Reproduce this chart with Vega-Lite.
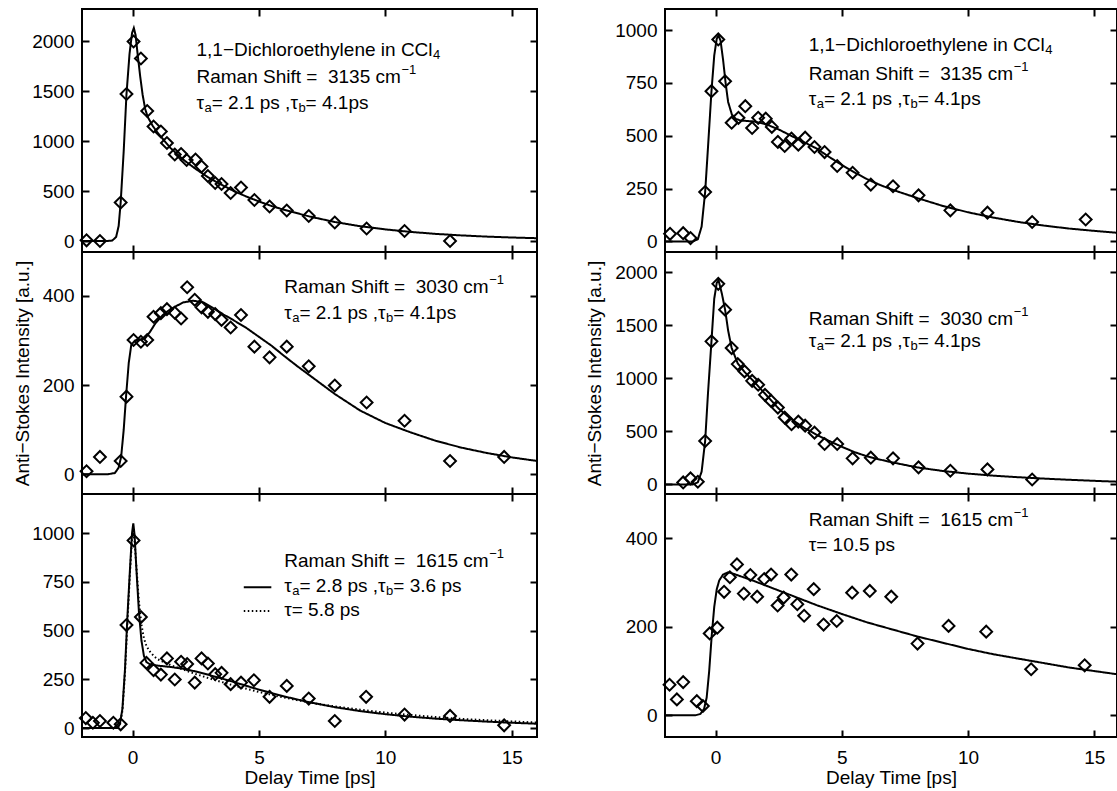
{
"$schema": "https://vega.github.io/schema/vega-lite/v6.json",
"background": "white",
"padding": {"left": 12, "top": 7, "right": 0, "bottom": 4},
"datasets": {
"points": [
{"panel":"L1","t":-1.82,"v":7},{"panel":"L1","t":-1.29,"v":0},{"panel":"L1","t":-0.47,"v":385},{"panel":"L1","t":-0.24,"v":1470},{"panel":"L1","t":0.04,"v":1995},{"panel":"L1","t":0.33,"v":1825},{"panel":"L1","t":0.58,"v":1300},{"panel":"L1","t":0.83,"v":1145},{"panel":"L1","t":1.12,"v":1095},{"panel":"L1","t":1.36,"v":980},{"panel":"L1","t":1.67,"v":865},{"panel":"L1","t":1.92,"v":870},{"panel":"L1","t":2.14,"v":810},{"panel":"L1","t":2.49,"v":815},{"panel":"L1","t":2.73,"v":745},{"panel":"L1","t":2.98,"v":650},{"panel":"L1","t":3.27,"v":580},{"panel":"L1","t":3.52,"v":570},{"panel":"L1","t":3.88,"v":480},{"panel":"L1","t":4.29,"v":535},{"panel":"L1","t":4.82,"v":410},{"panel":"L1","t":5.42,"v":345},{"panel":"L1","t":6.1,"v":305},{"panel":"L1","t":6.97,"v":250},{"panel":"L1","t":8.0,"v":185},{"panel":"L1","t":9.26,"v":125},{"panel":"L1","t":10.76,"v":100},{"panel":"L1","t":12.56,"v":0},
{"panel":"L2","t":-1.82,"v":7},{"panel":"L2","t":-1.29,"v":39},{"panel":"L2","t":-0.47,"v":30},{"panel":"L2","t":-0.24,"v":174},{"panel":"L2","t":0.04,"v":301},{"panel":"L2","t":0.33,"v":297},{"panel":"L2","t":0.58,"v":301},{"panel":"L2","t":0.83,"v":353},{"panel":"L2","t":1.12,"v":361},{"panel":"L2","t":1.36,"v":370},{"panel":"L2","t":1.67,"v":362},{"panel":"L2","t":1.92,"v":349},{"panel":"L2","t":2.16,"v":419},{"panel":"L2","t":2.46,"v":391},{"panel":"L2","t":2.73,"v":374},{"panel":"L2","t":2.98,"v":364},{"panel":"L2","t":3.27,"v":359},{"panel":"L2","t":3.52,"v":346},{"panel":"L2","t":3.88,"v":329},{"panel":"L2","t":4.29,"v":357},{"panel":"L2","t":4.82,"v":286},{"panel":"L2","t":5.42,"v":262},{"panel":"L2","t":6.1,"v":286},{"panel":"L2","t":6.97,"v":242},{"panel":"L2","t":8.0,"v":199},{"panel":"L2","t":9.26,"v":161},{"panel":"L2","t":10.76,"v":120},{"panel":"L2","t":12.56,"v":30},{"panel":"L2","t":14.7,"v":39},
{"panel":"L3","t":-1.85,"v":51},{"panel":"L3","t":-1.57,"v":27},{"panel":"L3","t":-1.29,"v":36},{"panel":"L3","t":-0.76,"v":27},{"panel":"L3","t":-0.47,"v":19},{"panel":"L3","t":-0.24,"v":528},{"panel":"L3","t":0.04,"v":962},{"panel":"L3","t":0.33,"v":569},{"panel":"L3","t":0.55,"v":334},{"panel":"L3","t":0.83,"v":297},{"panel":"L3","t":1.12,"v":274},{"panel":"L3","t":1.36,"v":357},{"panel":"L3","t":1.67,"v":249},{"panel":"L3","t":1.92,"v":340},{"panel":"L3","t":2.16,"v":328},{"panel":"L3","t":2.46,"v":233},{"panel":"L3","t":2.73,"v":357},{"panel":"L3","t":2.98,"v":331},{"panel":"L3","t":3.27,"v":276},{"panel":"L3","t":3.52,"v":283},{"panel":"L3","t":3.88,"v":225},{"panel":"L3","t":4.29,"v":233},{"panel":"L3","t":4.8,"v":245},{"panel":"L3","t":5.42,"v":160},{"panel":"L3","t":6.1,"v":216},{"panel":"L3","t":6.97,"v":151},{"panel":"L3","t":8.0,"v":36},{"panel":"L3","t":9.24,"v":160},{"panel":"L3","t":10.76,"v":69},{"panel":"L3","t":12.56,"v":62},{"panel":"L3","t":14.7,"v":14},
{"panel":"R1","t":-1.8,"v":36},{"panel":"R1","t":-1.28,"v":39},{"panel":"R1","t":-0.99,"v":16},{"panel":"R1","t":-0.41,"v":234},{"panel":"R1","t":-0.16,"v":711},{"panel":"R1","t":0.11,"v":956},{"panel":"R1","t":0.38,"v":758},{"panel":"R1","t":0.64,"v":562},{"panel":"R1","t":0.91,"v":585},{"panel":"R1","t":1.18,"v":640},{"panel":"R1","t":1.45,"v":537},{"panel":"R1","t":1.69,"v":585},{"panel":"R1","t":1.99,"v":581},{"panel":"R1","t":2.23,"v":542},{"panel":"R1","t":2.47,"v":471},{"panel":"R1","t":2.74,"v":452},{"panel":"R1","t":3.01,"v":487},{"panel":"R1","t":3.28,"v":458},{"panel":"R1","t":3.55,"v":491},{"panel":"R1","t":3.92,"v":447},{"panel":"R1","t":4.32,"v":423},{"panel":"R1","t":4.82,"v":357},{"panel":"R1","t":5.43,"v":325},{"panel":"R1","t":6.15,"v":269},{"panel":"R1","t":7.03,"v":261},{"panel":"R1","t":8.04,"v":218},{"panel":"R1","t":9.3,"v":147},{"panel":"R1","t":10.77,"v":136},{"panel":"R1","t":12.54,"v":92},{"panel":"R1","t":14.66,"v":104},
{"panel":"R2","t":-1.28,"v":19},{"panel":"R2","t":-0.99,"v":57},{"panel":"R2","t":-0.7,"v":25},{"panel":"R2","t":-0.41,"v":409},{"panel":"R2","t":-0.16,"v":1348},{"panel":"R2","t":0.11,"v":1890},{"panel":"R2","t":0.38,"v":1647},{"panel":"R2","t":0.64,"v":1285},{"panel":"R2","t":0.88,"v":1134},{"panel":"R2","t":1.15,"v":1065},{"panel":"R2","t":1.45,"v":976},{"panel":"R2","t":1.69,"v":939},{"panel":"R2","t":1.96,"v":844},{"panel":"R2","t":2.2,"v":787},{"panel":"R2","t":2.47,"v":724},{"panel":"R2","t":2.74,"v":630},{"panel":"R2","t":3.01,"v":567},{"panel":"R2","t":3.28,"v":592},{"panel":"R2","t":3.55,"v":554},{"panel":"R2","t":3.92,"v":488},{"panel":"R2","t":4.32,"v":381},{"panel":"R2","t":4.82,"v":381},{"panel":"R2","t":5.43,"v":246},{"panel":"R2","t":6.15,"v":252},{"panel":"R2","t":7.03,"v":246},{"panel":"R2","t":8.04,"v":161},{"panel":"R2","t":9.3,"v":129},{"panel":"R2","t":10.77,"v":142},{"panel":"R2","t":12.54,"v":47},
{"panel":"R3","t":-1.82,"v":69},{"panel":"R3","t":-1.53,"v":36},{"panel":"R3","t":-1.28,"v":75},{"panel":"R3","t":-0.74,"v":32},{"panel":"R3","t":-0.5,"v":21},{"panel":"R3","t":-0.23,"v":185},{"panel":"R3","t":0.07,"v":198},{"panel":"R3","t":0.34,"v":279},{"panel":"R3","t":0.57,"v":312},{"panel":"R3","t":0.85,"v":341},{"panel":"R3","t":1.12,"v":275},{"panel":"R3","t":1.38,"v":317},{"panel":"R3","t":1.65,"v":268},{"panel":"R3","t":1.93,"v":308},{"panel":"R3","t":2.2,"v":318},{"panel":"R3","t":2.46,"v":248},{"panel":"R3","t":2.7,"v":266},{"panel":"R3","t":3.0,"v":318},{"panel":"R3","t":3.24,"v":251},{"panel":"R3","t":3.51,"v":225},{"panel":"R3","t":3.89,"v":285},{"panel":"R3","t":4.28,"v":205},{"panel":"R3","t":4.8,"v":213},{"panel":"R3","t":5.41,"v":277},{"panel":"R3","t":6.11,"v":281},{"panel":"R3","t":6.96,"v":268},{"panel":"R3","t":8.0,"v":162},{"panel":"R3","t":9.23,"v":202},{"panel":"R3","t":10.72,"v":189},{"panel":"R3","t":12.5,"v":104},{"panel":"R3","t":14.62,"v":113}
],
"fits": [
{"panel":"L1","fit":"solid","t":-2,"v":0},{"panel":"L1","fit":"solid","t":-1,"v":0},{"panel":"L1","fit":"solid","t":-0.8,"v":5},{"panel":"L1","fit":"solid","t":-0.65,"v":40},{"panel":"L1","fit":"solid","t":-0.55,"v":150},{"panel":"L1","fit":"solid","t":-0.47,"v":385},{"panel":"L1","fit":"solid","t":-0.35,"v":900},{"panel":"L1","fit":"solid","t":-0.24,"v":1470},{"panel":"L1","fit":"solid","t":-0.12,"v":1870},{"panel":"L1","fit":"solid","t":-0.02,"v":2080},{"panel":"L1","fit":"solid","t":0.05,"v":2130},{"panel":"L1","fit":"solid","t":0.12,"v":2060},{"panel":"L1","fit":"solid","t":0.2,"v":1870},{"panel":"L1","fit":"solid","t":0.3,"v":1650},{"panel":"L1","fit":"solid","t":0.4,"v":1460},{"panel":"L1","fit":"solid","t":0.5,"v":1320},{"panel":"L1","fit":"solid","t":0.6,"v":1240},{"panel":"L1","fit":"solid","t":0.8,"v":1150},{"panel":"L1","fit":"solid","t":1.0,"v":1080},{"panel":"L1","fit":"solid","t":1.5,"v":930},{"panel":"L1","fit":"solid","t":2.0,"v":815},{"panel":"L1","fit":"solid","t":2.5,"v":720},{"panel":"L1","fit":"solid","t":3.0,"v":635},{"panel":"L1","fit":"solid","t":3.5,"v":565},{"panel":"L1","fit":"solid","t":4.0,"v":500},{"panel":"L1","fit":"solid","t":4.5,"v":445},{"panel":"L1","fit":"solid","t":5.0,"v":395},{"panel":"L1","fit":"solid","t":5.5,"v":350},{"panel":"L1","fit":"solid","t":6.0,"v":312},{"panel":"L1","fit":"solid","t":7.0,"v":245},{"panel":"L1","fit":"solid","t":8.0,"v":190},{"panel":"L1","fit":"solid","t":9.0,"v":148},{"panel":"L1","fit":"solid","t":10.0,"v":116},{"panel":"L1","fit":"solid","t":11.0,"v":91},{"panel":"L1","fit":"solid","t":12.0,"v":71},{"panel":"L1","fit":"solid","t":13.0,"v":56},{"panel":"L1","fit":"solid","t":14.0,"v":44},{"panel":"L1","fit":"solid","t":15.0,"v":35},{"panel":"L1","fit":"solid","t":16.0,"v":28},
{"panel":"L2","fit":"solid","t":-2,"v":0},{"panel":"L2","fit":"solid","t":-1,"v":0},{"panel":"L2","fit":"solid","t":-0.7,"v":3},{"panel":"L2","fit":"solid","t":-0.55,"v":15},{"panel":"L2","fit":"solid","t":-0.45,"v":40},{"panel":"L2","fit":"solid","t":-0.35,"v":100},{"panel":"L2","fit":"solid","t":-0.25,"v":180},{"panel":"L2","fit":"solid","t":-0.15,"v":250},{"panel":"L2","fit":"solid","t":-0.05,"v":290},{"panel":"L2","fit":"solid","t":0.1,"v":300},{"panel":"L2","fit":"solid","t":0.3,"v":302},{"panel":"L2","fit":"solid","t":0.5,"v":305},{"panel":"L2","fit":"solid","t":0.7,"v":320},{"panel":"L2","fit":"solid","t":0.9,"v":338},{"panel":"L2","fit":"solid","t":1.2,"v":357},{"panel":"L2","fit":"solid","t":1.5,"v":370},{"panel":"L2","fit":"solid","t":2.0,"v":385},{"panel":"L2","fit":"solid","t":2.4,"v":389},{"panel":"L2","fit":"solid","t":2.8,"v":385},{"panel":"L2","fit":"solid","t":3.2,"v":372},{"panel":"L2","fit":"solid","t":3.6,"v":358},{"panel":"L2","fit":"solid","t":4.0,"v":345},{"panel":"L2","fit":"solid","t":4.5,"v":328},{"panel":"L2","fit":"solid","t":5.0,"v":308},{"panel":"L2","fit":"solid","t":5.5,"v":288},{"panel":"L2","fit":"solid","t":6.0,"v":265},{"panel":"L2","fit":"solid","t":6.5,"v":243},{"panel":"L2","fit":"solid","t":7.0,"v":222},{"panel":"L2","fit":"solid","t":8.0,"v":180},{"panel":"L2","fit":"solid","t":9.0,"v":143},{"panel":"L2","fit":"solid","t":10.0,"v":115},{"panel":"L2","fit":"solid","t":11.0,"v":94},{"panel":"L2","fit":"solid","t":12.0,"v":75},{"panel":"L2","fit":"solid","t":13.0,"v":60},{"panel":"L2","fit":"solid","t":14.0,"v":48},{"panel":"L2","fit":"solid","t":15.0,"v":38},{"panel":"L2","fit":"solid","t":16.0,"v":30},
{"panel":"L3","fit":"solid","t":-2,"v":0},{"panel":"L3","fit":"solid","t":-0.6,"v":0},{"panel":"L3","fit":"solid","t":-0.5,"v":20},{"panel":"L3","fit":"solid","t":-0.4,"v":100},{"panel":"L3","fit":"solid","t":-0.3,"v":300},{"panel":"L3","fit":"solid","t":-0.2,"v":580},{"panel":"L3","fit":"solid","t":-0.1,"v":820},{"panel":"L3","fit":"solid","t":-0.02,"v":1000},{"panel":"L3","fit":"solid","t":0.03,"v":1050},{"panel":"L3","fit":"solid","t":0.08,"v":990},{"panel":"L3","fit":"solid","t":0.15,"v":820},{"panel":"L3","fit":"solid","t":0.25,"v":600},{"panel":"L3","fit":"solid","t":0.35,"v":450},{"panel":"L3","fit":"solid","t":0.45,"v":370},{"panel":"L3","fit":"solid","t":0.55,"v":338},{"panel":"L3","fit":"solid","t":0.7,"v":326},{"panel":"L3","fit":"solid","t":1.0,"v":320},{"panel":"L3","fit":"solid","t":1.5,"v":313},{"panel":"L3","fit":"solid","t":2.0,"v":304},{"panel":"L3","fit":"solid","t":2.5,"v":290},{"panel":"L3","fit":"solid","t":3.0,"v":273},{"panel":"L3","fit":"solid","t":3.5,"v":255},{"panel":"L3","fit":"solid","t":4.0,"v":236},{"panel":"L3","fit":"solid","t":5.0,"v":197},{"panel":"L3","fit":"solid","t":6.0,"v":162},{"panel":"L3","fit":"solid","t":7.0,"v":132},{"panel":"L3","fit":"solid","t":8.0,"v":107},{"panel":"L3","fit":"solid","t":9.0,"v":87},{"panel":"L3","fit":"solid","t":10.0,"v":71},{"panel":"L3","fit":"solid","t":11.0,"v":58},{"panel":"L3","fit":"solid","t":12.0,"v":48},{"panel":"L3","fit":"solid","t":13.0,"v":40},{"panel":"L3","fit":"solid","t":14.0,"v":33},{"panel":"L3","fit":"solid","t":15.0,"v":27},{"panel":"L3","fit":"solid","t":16.0,"v":22},
{"panel":"L3","fit":"dotted","t":-2,"v":0},{"panel":"L3","fit":"dotted","t":-0.6,"v":0},{"panel":"L3","fit":"dotted","t":-0.5,"v":15},{"panel":"L3","fit":"dotted","t":-0.4,"v":90},{"panel":"L3","fit":"dotted","t":-0.3,"v":280},{"panel":"L3","fit":"dotted","t":-0.2,"v":550},{"panel":"L3","fit":"dotted","t":-0.1,"v":800},{"panel":"L3","fit":"dotted","t":-0.02,"v":975},{"panel":"L3","fit":"dotted","t":0.03,"v":1000},{"panel":"L3","fit":"dotted","t":0.08,"v":960},{"panel":"L3","fit":"dotted","t":0.15,"v":830},{"panel":"L3","fit":"dotted","t":0.25,"v":650},{"panel":"L3","fit":"dotted","t":0.35,"v":530},{"panel":"L3","fit":"dotted","t":0.45,"v":460},{"panel":"L3","fit":"dotted","t":0.55,"v":420},{"panel":"L3","fit":"dotted","t":0.7,"v":390},{"panel":"L3","fit":"dotted","t":0.85,"v":368},{"panel":"L3","fit":"dotted","t":1.0,"v":352},{"panel":"L3","fit":"dotted","t":1.5,"v":323},{"panel":"L3","fit":"dotted","t":2.0,"v":300},{"panel":"L3","fit":"dotted","t":2.5,"v":277},{"panel":"L3","fit":"dotted","t":3.0,"v":256},{"panel":"L3","fit":"dotted","t":4.0,"v":218},{"panel":"L3","fit":"dotted","t":5.0,"v":185},{"panel":"L3","fit":"dotted","t":6.0,"v":156},{"panel":"L3","fit":"dotted","t":7.0,"v":131},{"panel":"L3","fit":"dotted","t":8.0,"v":111},{"panel":"L3","fit":"dotted","t":9.0,"v":94},{"panel":"L3","fit":"dotted","t":10.0,"v":79},{"panel":"L3","fit":"dotted","t":11.0,"v":67},{"panel":"L3","fit":"dotted","t":12.0,"v":56},{"panel":"L3","fit":"dotted","t":13.0,"v":47},{"panel":"L3","fit":"dotted","t":14.0,"v":40},{"panel":"L3","fit":"dotted","t":15.0,"v":34},{"panel":"L3","fit":"dotted","t":16.0,"v":28},
{"panel":"R1","fit":"solid","t":-2,"v":0},{"panel":"R1","fit":"solid","t":-0.9,"v":0},{"panel":"R1","fit":"solid","t":-0.7,"v":10},{"panel":"R1","fit":"solid","t":-0.55,"v":70},{"panel":"R1","fit":"solid","t":-0.41,"v":234},{"panel":"R1","fit":"solid","t":-0.3,"v":440},{"panel":"R1","fit":"solid","t":-0.16,"v":711},{"panel":"R1","fit":"solid","t":-0.05,"v":880},{"panel":"R1","fit":"solid","t":0.05,"v":960},{"panel":"R1","fit":"solid","t":0.12,"v":975},{"panel":"R1","fit":"solid","t":0.2,"v":950},{"panel":"R1","fit":"solid","t":0.3,"v":860},{"panel":"R1","fit":"solid","t":0.4,"v":750},{"panel":"R1","fit":"solid","t":0.5,"v":660},{"panel":"R1","fit":"solid","t":0.65,"v":600},{"panel":"R1","fit":"solid","t":0.8,"v":580},{"panel":"R1","fit":"solid","t":1.0,"v":572},{"panel":"R1","fit":"solid","t":1.5,"v":568},{"panel":"R1","fit":"solid","t":2.0,"v":555},{"panel":"R1","fit":"solid","t":2.5,"v":530},{"panel":"R1","fit":"solid","t":3.0,"v":500},{"panel":"R1","fit":"solid","t":3.5,"v":470},{"panel":"R1","fit":"solid","t":4.0,"v":440},{"panel":"R1","fit":"solid","t":4.5,"v":400},{"panel":"R1","fit":"solid","t":5.0,"v":362},{"panel":"R1","fit":"solid","t":5.5,"v":327},{"panel":"R1","fit":"solid","t":6.0,"v":295},{"panel":"R1","fit":"solid","t":6.5,"v":268},{"panel":"R1","fit":"solid","t":7.0,"v":245},{"panel":"R1","fit":"solid","t":8.0,"v":205},{"panel":"R1","fit":"solid","t":9.0,"v":168},{"panel":"R1","fit":"solid","t":10.0,"v":138},{"panel":"R1","fit":"solid","t":11.0,"v":113},{"panel":"R1","fit":"solid","t":12.0,"v":92},{"panel":"R1","fit":"solid","t":13.0,"v":75},{"panel":"R1","fit":"solid","t":14.0,"v":61},{"panel":"R1","fit":"solid","t":15.0,"v":50},{"panel":"R1","fit":"solid","t":16.0,"v":40},
{"panel":"R2","fit":"solid","t":-2,"v":0},{"panel":"R2","fit":"solid","t":-0.9,"v":0},{"panel":"R2","fit":"solid","t":-0.7,"v":20},{"panel":"R2","fit":"solid","t":-0.55,"v":120},{"panel":"R2","fit":"solid","t":-0.41,"v":409},{"panel":"R2","fit":"solid","t":-0.3,"v":850},{"panel":"R2","fit":"solid","t":-0.16,"v":1348},{"panel":"R2","fit":"solid","t":-0.05,"v":1750},{"panel":"R2","fit":"solid","t":0.05,"v":1900},{"panel":"R2","fit":"solid","t":0.12,"v":1925},{"panel":"R2","fit":"solid","t":0.25,"v":1800},{"panel":"R2","fit":"solid","t":0.38,"v":1647},{"panel":"R2","fit":"solid","t":0.5,"v":1450},{"panel":"R2","fit":"solid","t":0.64,"v":1285},{"panel":"R2","fit":"solid","t":0.88,"v":1140},{"panel":"R2","fit":"solid","t":1.15,"v":1060},{"panel":"R2","fit":"solid","t":1.5,"v":975},{"panel":"R2","fit":"solid","t":2.0,"v":845},{"panel":"R2","fit":"solid","t":2.5,"v":715},{"panel":"R2","fit":"solid","t":3.0,"v":615},{"panel":"R2","fit":"solid","t":3.5,"v":535},{"panel":"R2","fit":"solid","t":4.0,"v":468},{"panel":"R2","fit":"solid","t":4.5,"v":410},{"panel":"R2","fit":"solid","t":5.0,"v":355},{"panel":"R2","fit":"solid","t":5.5,"v":305},{"panel":"R2","fit":"solid","t":6.0,"v":265},{"panel":"R2","fit":"solid","t":6.5,"v":235},{"panel":"R2","fit":"solid","t":7.0,"v":208},{"panel":"R2","fit":"solid","t":8.0,"v":160},{"panel":"R2","fit":"solid","t":9.0,"v":127},{"panel":"R2","fit":"solid","t":10.0,"v":102},{"panel":"R2","fit":"solid","t":11.0,"v":83},{"panel":"R2","fit":"solid","t":12.0,"v":68},{"panel":"R2","fit":"solid","t":13.0,"v":55},{"panel":"R2","fit":"solid","t":14.0,"v":44},{"panel":"R2","fit":"solid","t":15.0,"v":34},{"panel":"R2","fit":"solid","t":16.0,"v":25},
{"panel":"R3","fit":"solid","t":-2,"v":0},{"panel":"R3","fit":"solid","t":-0.8,"v":0},{"panel":"R3","fit":"solid","t":-0.6,"v":3},{"panel":"R3","fit":"solid","t":-0.45,"v":15},{"panel":"R3","fit":"solid","t":-0.35,"v":40},{"panel":"R3","fit":"solid","t":-0.25,"v":100},{"panel":"R3","fit":"solid","t":-0.15,"v":180},{"panel":"R3","fit":"solid","t":-0.05,"v":245},{"panel":"R3","fit":"solid","t":0.05,"v":285},{"panel":"R3","fit":"solid","t":0.15,"v":305},{"panel":"R3","fit":"solid","t":0.3,"v":318},{"panel":"R3","fit":"solid","t":0.5,"v":323},{"panel":"R3","fit":"solid","t":0.7,"v":320},{"panel":"R3","fit":"solid","t":1.0,"v":314},{"panel":"R3","fit":"solid","t":1.5,"v":304},{"panel":"R3","fit":"solid","t":2.0,"v":293},{"panel":"R3","fit":"solid","t":3.0,"v":271},{"panel":"R3","fit":"solid","t":4.0,"v":249},{"panel":"R3","fit":"solid","t":5.0,"v":229},{"panel":"R3","fit":"solid","t":6.0,"v":210},{"panel":"R3","fit":"solid","t":7.0,"v":194},{"panel":"R3","fit":"solid","t":8.0,"v":178},{"panel":"R3","fit":"solid","t":9.0,"v":164},{"panel":"R3","fit":"solid","t":10.0,"v":150},{"panel":"R3","fit":"solid","t":11.0,"v":138},{"panel":"R3","fit":"solid","t":12.0,"v":128},{"panel":"R3","fit":"solid","t":13.0,"v":118},{"panel":"R3","fit":"solid","t":14.0,"v":108},{"panel":"R3","fit":"solid","t":15.0,"v":100},{"panel":"R3","fit":"solid","t":16.0,"v":92}
],
"keys": [
{"panel":"L3","fit":"solid","t":4.4,"v":722},{"panel":"L3","fit":"solid","t":5.49,"v":722},
{"panel":"L3","fit":"dotted","t":4.4,"v":600},{"panel":"L3","fit":"dotted","t":5.49,"v":600}
],
"ann": [
{"panel":"L1","kind":"title","t":2.53,"v":1910,"text":"1,1−Dichloroethylene in CCl","sub":"4"},
{"panel":"L1","kind":"raman","t":2.53,"v":1638,"text":"Raman Shift =\u00a0 3135 cm","sup":"−1"},
{"panel":"L1","kind":"tau2","t":2.53,"v":1379,"text":"τ","s1":"a","p2":"= 2.1 ps ,τ","s2":"b","p3":"= 4.1ps"},
{"panel":"L2","kind":"raman","t":6.0,"v":420,"text":"Raman Shift =\u00a0 3030 cm","sup":"−1"},
{"panel":"L2","kind":"tau2","t":6.0,"v":362,"text":"τ","s1":"a","p2":"= 2.1 ps ,τ","s2":"b","p3":"= 4.1ps"},
{"panel":"L3","kind":"raman","t":6.0,"v":858,"text":"Raman Shift =\u00a0 1615 cm","sup":"−1"},
{"panel":"L3","kind":"tau2","t":6.0,"v":729,"text":"τ","s1":"a","p2":"= 2.8 ps ,τ","s2":"b","p3":"= 3.6 ps"},
{"panel":"L3","kind":"plain","t":6.0,"v":605,"text":"τ= 5.8 ps"},
{"panel":"R1","kind":"title","t":3.69,"v":929,"text":"1,1−Dichloroethylene in CCl","sub":"4"},
{"panel":"R1","kind":"raman","t":3.69,"v":791,"text":"Raman Shift =\u00a0 3135 cm","sup":"−1"},
{"panel":"R1","kind":"tau2","t":3.69,"v":673,"text":"τ","s1":"a","p2":"= 2.1 ps ,τ","s2":"b","p3":"= 4.1ps"},
{"panel":"R2","kind":"raman","t":3.69,"v":1562,"text":"Raman Shift =\u00a0 3030 cm","sup":"−1"},
{"panel":"R2","kind":"tau2","t":3.69,"v":1348,"text":"τ","s1":"a","p2":"= 2.1 ps ,τ","s2":"b","p3":"= 4.1ps"},
{"panel":"R3","kind":"raman","t":3.69,"v":441,"text":"Raman Shift =\u00a0 1615 cm","sup":"−1"},
{"panel":"R3","kind":"plain","t":3.69,"v":385,"text":"τ= 10.5 ps"}
]
},
"hconcat": [
{"vconcat": [
{"width":455,"height":243,"layer":[
 {"encoding":{"x":{"field":"t","type":"quantitative","scale":{"domain":[-2,16],"nice":false,"zero":false},"axis":{"orient":"bottom","values":[0,5,10,15],"labels":false,"title":null}},
  "y":{"field":"v","type":"quantitative","scale":{"domain":[-110,2320],"nice":false,"zero":false},"axis":{"orient":"left","values":[0,500,1000,1500,2000],"format":"d","title":null}}},
  "layer":[
   {"data":{"name":"points"},"transform":[{"filter":"datum.panel == 'L1'"}],"mark":{"type":"point","shape":"diamond","filled":false,"color":"black","strokeWidth":2,"size":140,"opacity":1}},
   {"data":{"name":"fits"},"transform":[{"filter":"datum.panel == 'L1'"}],"mark":{"type":"line","color":"black","strokeWidth":2},"encoding":{"strokeDash":{"field":"fit","type":"nominal","scale":{"domain":["solid","dotted"],"range":[[1,0],[1.5,2.5]]},"legend":null}}},
   {"data":{"name":"ann"},"transform":[{"filter":"datum.panel == 'L1'"}],"mark":{"type":"text","align":"left","baseline":"middle","fontSize":19,"color":"black"},"encoding":{"text":{"field":"text","type":"nominal"}}},
   {"data":{"name":"ann"},"transform":[{"filter":"datum.panel == 'L1' && datum.kind == 'raman'"}],"mark":{"type":"text","align":"left","baseline":"middle","fontSize":13,"dx":205,"dy":-7,"color":"black"},"encoding":{"text":{"field":"sup","type":"nominal"}}},
   {"data":{"name":"ann"},"transform":[{"filter":"datum.panel == 'L1' && datum.kind == 'title'"}],"mark":{"type":"text","align":"left","baseline":"middle","fontSize":13,"dx":236.5,"dy":5,"color":"black"},"encoding":{"text":{"field":"sub","type":"nominal"}}},
   {"data":{"name":"ann"},"transform":[{"filter":"datum.panel == 'L1' && datum.kind == 'tau2'"}],"mark":{"type":"text","align":"left","baseline":"middle","fontSize":13,"dx":8,"dy":5,"color":"black"},"encoding":{"text":{"field":"s1","type":"nominal"}}},
   {"data":{"name":"ann"},"transform":[{"filter":"datum.panel == 'L1' && datum.kind == 'tau2'"}],"mark":{"type":"text","align":"left","baseline":"middle","fontSize":19,"dx":15.2,"color":"black"},"encoding":{"text":{"field":"p2","type":"nominal"}}},
   {"data":{"name":"ann"},"transform":[{"filter":"datum.panel == 'L1' && datum.kind == 'tau2'"}],"mark":{"type":"text","align":"left","baseline":"middle","fontSize":13,"dx":101.9,"dy":5,"color":"black"},"encoding":{"text":{"field":"s2","type":"nominal"}}},
   {"data":{"name":"ann"},"transform":[{"filter":"datum.panel == 'L1' && datum.kind == 'tau2'"}],"mark":{"type":"text","align":"left","baseline":"middle","fontSize":19,"dx":109.1,"color":"black"},"encoding":{"text":{"field":"p3","type":"nominal"}}}
  ]},
 {"data":{"name":"points"},"transform":[{"filter":"datum.panel == 'L1'"}],"mark":{"type":"point","opacity":0},
  "encoding":{"x":{"field":"t","type":"quantitative","scale":{"domain":[-2,16],"nice":false,"zero":false},"axis":{"orient":"top","values":[0,5,10,15],"labels":false,"title":null}},
  "y":{"field":"v","type":"quantitative","scale":{"domain":[-110,2320],"nice":false,"zero":false},"axis":{"orient":"right","values":[0,500,1000,1500,2000],"labels":false,"title":null}}}}
],"resolve":{"axis":{"x":"independent","y":"independent"}}},
{"width":455,"height":242,"layer":[
 {"encoding":{"x":{"field":"t","type":"quantitative","scale":{"domain":[-2,16],"nice":false,"zero":false},"axis":{"orient":"bottom","values":[0,5,10,15],"labels":false,"title":null}},
  "y":{"field":"v","type":"quantitative","scale":{"domain":[-44,498],"nice":false,"zero":false},"axis":{"orient":"left","values":[0,200,400],"format":"d","title":"Anti−Stokes Intensity [a.u.]"}}},
  "layer":[
   {"data":{"name":"points"},"transform":[{"filter":"datum.panel == 'L2'"}],"mark":{"type":"point","shape":"diamond","filled":false,"color":"black","strokeWidth":2,"size":140,"opacity":1}},
   {"data":{"name":"fits"},"transform":[{"filter":"datum.panel == 'L2'"}],"mark":{"type":"line","color":"black","strokeWidth":2},"encoding":{"strokeDash":{"field":"fit","type":"nominal","scale":{"domain":["solid","dotted"],"range":[[1,0],[1.5,2.5]]},"legend":null}}},
   {"data":{"name":"ann"},"transform":[{"filter":"datum.panel == 'L2'"}],"mark":{"type":"text","align":"left","baseline":"middle","fontSize":19,"color":"black"},"encoding":{"text":{"field":"text","type":"nominal"}}},
   {"data":{"name":"ann"},"transform":[{"filter":"datum.panel == 'L2' && datum.kind == 'raman'"}],"mark":{"type":"text","align":"left","baseline":"middle","fontSize":13,"dx":205,"dy":-7,"color":"black"},"encoding":{"text":{"field":"sup","type":"nominal"}}},
   {"data":{"name":"ann"},"transform":[{"filter":"datum.panel == 'L2' && datum.kind == 'tau2'"}],"mark":{"type":"text","align":"left","baseline":"middle","fontSize":13,"dx":8,"dy":5,"color":"black"},"encoding":{"text":{"field":"s1","type":"nominal"}}},
   {"data":{"name":"ann"},"transform":[{"filter":"datum.panel == 'L2' && datum.kind == 'tau2'"}],"mark":{"type":"text","align":"left","baseline":"middle","fontSize":19,"dx":15.2,"color":"black"},"encoding":{"text":{"field":"p2","type":"nominal"}}},
   {"data":{"name":"ann"},"transform":[{"filter":"datum.panel == 'L2' && datum.kind == 'tau2'"}],"mark":{"type":"text","align":"left","baseline":"middle","fontSize":13,"dx":101.9,"dy":5,"color":"black"},"encoding":{"text":{"field":"s2","type":"nominal"}}},
   {"data":{"name":"ann"},"transform":[{"filter":"datum.panel == 'L2' && datum.kind == 'tau2'"}],"mark":{"type":"text","align":"left","baseline":"middle","fontSize":19,"dx":109.1,"color":"black"},"encoding":{"text":{"field":"p3","type":"nominal"}}}
  ]},
 {"data":{"name":"points"},"transform":[{"filter":"datum.panel == 'L2'"}],"mark":{"type":"point","opacity":0},
  "encoding":{"x":{"field":"t","type":"quantitative","scale":{"domain":[-2,16],"nice":false,"zero":false},"axis":{"orient":"top","values":[0,5,10,15],"labels":false,"title":null}},
  "y":{"field":"v","type":"quantitative","scale":{"domain":[-44,498],"nice":false,"zero":false},"axis":{"orient":"right","values":[0,200,400],"labels":false,"title":null}}}}
],"resolve":{"axis":{"x":"independent","y":"independent"}}},
{"width":455,"height":243,"layer":[
 {"encoding":{"x":{"field":"t","type":"quantitative","scale":{"domain":[-2,16],"nice":false,"zero":false},"axis":{"orient":"bottom","values":[0,5,10,15],"format":"d","title":"Delay Time [ps]"}},
  "y":{"field":"v","type":"quantitative","scale":{"domain":[-46,1200],"nice":false,"zero":false},"axis":{"orient":"left","values":[0,250,500,750,1000],"format":"d","title":null}}},
  "layer":[
   {"data":{"name":"points"},"transform":[{"filter":"datum.panel == 'L3'"}],"mark":{"type":"point","shape":"diamond","filled":false,"color":"black","strokeWidth":2,"size":140,"opacity":1}},
   {"data":{"name":"fits"},"transform":[{"filter":"datum.panel == 'L3'"}],"mark":{"type":"line","color":"black","strokeWidth":2},"encoding":{"strokeDash":{"field":"fit","type":"nominal","scale":{"domain":["solid","dotted"],"range":[[1,0],[1.5,2.5]]},"legend":null}}},
   {"data":{"name":"keys"},"mark":{"type":"line","color":"black","strokeWidth":2},"encoding":{"strokeDash":{"field":"fit","type":"nominal","scale":{"domain":["solid","dotted"],"range":[[1,0],[1.5,2.5]]},"legend":null}}},
   {"data":{"name":"ann"},"transform":[{"filter":"datum.panel == 'L3'"}],"mark":{"type":"text","align":"left","baseline":"middle","fontSize":19,"color":"black"},"encoding":{"text":{"field":"text","type":"nominal"}}},
   {"data":{"name":"ann"},"transform":[{"filter":"datum.panel == 'L3' && datum.kind == 'raman'"}],"mark":{"type":"text","align":"left","baseline":"middle","fontSize":13,"dx":205,"dy":-7,"color":"black"},"encoding":{"text":{"field":"sup","type":"nominal"}}},
   {"data":{"name":"ann"},"transform":[{"filter":"datum.panel == 'L3' && datum.kind == 'tau2'"}],"mark":{"type":"text","align":"left","baseline":"middle","fontSize":13,"dx":8,"dy":5,"color":"black"},"encoding":{"text":{"field":"s1","type":"nominal"}}},
   {"data":{"name":"ann"},"transform":[{"filter":"datum.panel == 'L3' && datum.kind == 'tau2'"}],"mark":{"type":"text","align":"left","baseline":"middle","fontSize":19,"dx":15.2,"color":"black"},"encoding":{"text":{"field":"p2","type":"nominal"}}},
   {"data":{"name":"ann"},"transform":[{"filter":"datum.panel == 'L3' && datum.kind == 'tau2'"}],"mark":{"type":"text","align":"left","baseline":"middle","fontSize":13,"dx":101.9,"dy":5,"color":"black"},"encoding":{"text":{"field":"s2","type":"nominal"}}},
   {"data":{"name":"ann"},"transform":[{"filter":"datum.panel == 'L3' && datum.kind == 'tau2'"}],"mark":{"type":"text","align":"left","baseline":"middle","fontSize":19,"dx":109.1,"color":"black"},"encoding":{"text":{"field":"p3","type":"nominal"}}}
  ]},
 {"data":{"name":"points"},"transform":[{"filter":"datum.panel == 'L3'"}],"mark":{"type":"point","opacity":0},
  "encoding":{"x":{"field":"t","type":"quantitative","scale":{"domain":[-2,16],"nice":false,"zero":false},"axis":{"orient":"top","values":[0,5,10,15],"labels":false,"title":null}},
  "y":{"field":"v","type":"quantitative","scale":{"domain":[-46,1200],"nice":false,"zero":false},"axis":{"orient":"right","values":[0,250,500,750,1000],"labels":false,"title":null}}}}
],"resolve":{"axis":{"x":"independent","y":"independent"}}}
],"spacing":0,"bounds":"flush","resolve":{"scale":{"x":"independent","y":"independent"}}},
{"vconcat": [
{"width":452,"height":243,"layer":[
 {"encoding":{"x":{"field":"t","type":"quantitative","scale":{"domain":[-2,15.9],"nice":false,"zero":false},"axis":{"orient":"bottom","values":[0,5,10,15],"labels":false,"title":null}},
  "y":{"field":"v","type":"quantitative","scale":{"domain":[-50,1100],"nice":false,"zero":false},"axis":{"orient":"left","values":[0,250,500,750,1000],"format":"d","title":null}}},
  "layer":[
   {"data":{"name":"points"},"transform":[{"filter":"datum.panel == 'R1'"}],"mark":{"type":"point","shape":"diamond","filled":false,"color":"black","strokeWidth":2,"size":140,"opacity":1}},
   {"data":{"name":"fits"},"transform":[{"filter":"datum.panel == 'R1'"}],"mark":{"type":"line","color":"black","strokeWidth":2,"clip":true},"encoding":{"strokeDash":{"field":"fit","type":"nominal","scale":{"domain":["solid","dotted"],"range":[[1,0],[1.5,2.5]]},"legend":null}}},
   {"data":{"name":"ann"},"transform":[{"filter":"datum.panel == 'R1'"}],"mark":{"type":"text","align":"left","baseline":"middle","fontSize":19,"color":"black"},"encoding":{"text":{"field":"text","type":"nominal"}}},
   {"data":{"name":"ann"},"transform":[{"filter":"datum.panel == 'R1' && datum.kind == 'raman'"}],"mark":{"type":"text","align":"left","baseline":"middle","fontSize":13,"dx":205,"dy":-7,"color":"black"},"encoding":{"text":{"field":"sup","type":"nominal"}}},
   {"data":{"name":"ann"},"transform":[{"filter":"datum.panel == 'R1' && datum.kind == 'title'"}],"mark":{"type":"text","align":"left","baseline":"middle","fontSize":13,"dx":236.5,"dy":5,"color":"black"},"encoding":{"text":{"field":"sub","type":"nominal"}}},
   {"data":{"name":"ann"},"transform":[{"filter":"datum.panel == 'R1' && datum.kind == 'tau2'"}],"mark":{"type":"text","align":"left","baseline":"middle","fontSize":13,"dx":8,"dy":5,"color":"black"},"encoding":{"text":{"field":"s1","type":"nominal"}}},
   {"data":{"name":"ann"},"transform":[{"filter":"datum.panel == 'R1' && datum.kind == 'tau2'"}],"mark":{"type":"text","align":"left","baseline":"middle","fontSize":19,"dx":15.2,"color":"black"},"encoding":{"text":{"field":"p2","type":"nominal"}}},
   {"data":{"name":"ann"},"transform":[{"filter":"datum.panel == 'R1' && datum.kind == 'tau2'"}],"mark":{"type":"text","align":"left","baseline":"middle","fontSize":13,"dx":101.9,"dy":5,"color":"black"},"encoding":{"text":{"field":"s2","type":"nominal"}}},
   {"data":{"name":"ann"},"transform":[{"filter":"datum.panel == 'R1' && datum.kind == 'tau2'"}],"mark":{"type":"text","align":"left","baseline":"middle","fontSize":19,"dx":109.1,"color":"black"},"encoding":{"text":{"field":"p3","type":"nominal"}}}
  ]},
 {"data":{"name":"points"},"transform":[{"filter":"datum.panel == 'R1'"}],"mark":{"type":"point","opacity":0},
  "encoding":{"x":{"field":"t","type":"quantitative","scale":{"domain":[-2,15.9],"nice":false,"zero":false},"axis":{"orient":"top","values":[0,5,10,15],"labels":false,"title":null}},
  "y":{"field":"v","type":"quantitative","scale":{"domain":[-50,1100],"nice":false,"zero":false},"axis":{"orient":"right","values":[0,250,500,750,1000],"labels":false,"title":null}}}}
],"resolve":{"axis":{"x":"independent","y":"independent"}}},
{"width":452,"height":242,"layer":[
 {"encoding":{"x":{"field":"t","type":"quantitative","scale":{"domain":[-2,15.9],"nice":false,"zero":false},"axis":{"orient":"bottom","values":[0,5,10,15],"labels":false,"title":null}},
  "y":{"field":"v","type":"quantitative","scale":{"domain":[-90,2190],"nice":false,"zero":false},"axis":{"orient":"left","values":[0,500,1000,1500,2000],"format":"d","title":"Anti−Stokes Intensity [a.u.]"}}},
  "layer":[
   {"data":{"name":"points"},"transform":[{"filter":"datum.panel == 'R2'"}],"mark":{"type":"point","shape":"diamond","filled":false,"color":"black","strokeWidth":2,"size":140,"opacity":1}},
   {"data":{"name":"fits"},"transform":[{"filter":"datum.panel == 'R2'"}],"mark":{"type":"line","color":"black","strokeWidth":2,"clip":true},"encoding":{"strokeDash":{"field":"fit","type":"nominal","scale":{"domain":["solid","dotted"],"range":[[1,0],[1.5,2.5]]},"legend":null}}},
   {"data":{"name":"ann"},"transform":[{"filter":"datum.panel == 'R2'"}],"mark":{"type":"text","align":"left","baseline":"middle","fontSize":19,"color":"black"},"encoding":{"text":{"field":"text","type":"nominal"}}},
   {"data":{"name":"ann"},"transform":[{"filter":"datum.panel == 'R2' && datum.kind == 'raman'"}],"mark":{"type":"text","align":"left","baseline":"middle","fontSize":13,"dx":205,"dy":-7,"color":"black"},"encoding":{"text":{"field":"sup","type":"nominal"}}},
   {"data":{"name":"ann"},"transform":[{"filter":"datum.panel == 'R2' && datum.kind == 'tau2'"}],"mark":{"type":"text","align":"left","baseline":"middle","fontSize":13,"dx":8,"dy":5,"color":"black"},"encoding":{"text":{"field":"s1","type":"nominal"}}},
   {"data":{"name":"ann"},"transform":[{"filter":"datum.panel == 'R2' && datum.kind == 'tau2'"}],"mark":{"type":"text","align":"left","baseline":"middle","fontSize":19,"dx":15.2,"color":"black"},"encoding":{"text":{"field":"p2","type":"nominal"}}},
   {"data":{"name":"ann"},"transform":[{"filter":"datum.panel == 'R2' && datum.kind == 'tau2'"}],"mark":{"type":"text","align":"left","baseline":"middle","fontSize":13,"dx":101.9,"dy":5,"color":"black"},"encoding":{"text":{"field":"s2","type":"nominal"}}},
   {"data":{"name":"ann"},"transform":[{"filter":"datum.panel == 'R2' && datum.kind == 'tau2'"}],"mark":{"type":"text","align":"left","baseline":"middle","fontSize":19,"dx":109.1,"color":"black"},"encoding":{"text":{"field":"p3","type":"nominal"}}}
  ]},
 {"data":{"name":"points"},"transform":[{"filter":"datum.panel == 'R2'"}],"mark":{"type":"point","opacity":0},
  "encoding":{"x":{"field":"t","type":"quantitative","scale":{"domain":[-2,15.9],"nice":false,"zero":false},"axis":{"orient":"top","values":[0,5,10,15],"labels":false,"title":null}},
  "y":{"field":"v","type":"quantitative","scale":{"domain":[-90,2190],"nice":false,"zero":false},"axis":{"orient":"right","values":[0,500,1000,1500,2000],"labels":false,"title":null}}}}
],"resolve":{"axis":{"x":"independent","y":"independent"}}},
{"width":452,"height":243,"layer":[
 {"encoding":{"x":{"field":"t","type":"quantitative","scale":{"domain":[-2,15.9],"nice":false,"zero":false},"axis":{"orient":"bottom","values":[0,5,10,15],"format":"d","title":"Delay Time [ps]"}},
  "y":{"field":"v","type":"quantitative","scale":{"domain":[-49,500],"nice":false,"zero":false},"axis":{"orient":"left","values":[0,200,400],"format":"d","title":null}}},
  "layer":[
   {"data":{"name":"points"},"transform":[{"filter":"datum.panel == 'R3'"}],"mark":{"type":"point","shape":"diamond","filled":false,"color":"black","strokeWidth":2,"size":140,"opacity":1}},
   {"data":{"name":"fits"},"transform":[{"filter":"datum.panel == 'R3'"}],"mark":{"type":"line","color":"black","strokeWidth":2,"clip":true},"encoding":{"strokeDash":{"field":"fit","type":"nominal","scale":{"domain":["solid","dotted"],"range":[[1,0],[1.5,2.5]]},"legend":null}}},
   {"data":{"name":"ann"},"transform":[{"filter":"datum.panel == 'R3'"}],"mark":{"type":"text","align":"left","baseline":"middle","fontSize":19,"color":"black"},"encoding":{"text":{"field":"text","type":"nominal"}}},
   {"data":{"name":"ann"},"transform":[{"filter":"datum.panel == 'R3' && datum.kind == 'raman'"}],"mark":{"type":"text","align":"left","baseline":"middle","fontSize":13,"dx":205,"dy":-7,"color":"black"},"encoding":{"text":{"field":"sup","type":"nominal"}}}
  ]},
 {"data":{"name":"points"},"transform":[{"filter":"datum.panel == 'R3'"}],"mark":{"type":"point","opacity":0},
  "encoding":{"x":{"field":"t","type":"quantitative","scale":{"domain":[-2,15.9],"nice":false,"zero":false},"axis":{"orient":"top","values":[0,5,10,15],"labels":false,"title":null}},
  "y":{"field":"v","type":"quantitative","scale":{"domain":[-49,500],"nice":false,"zero":false},"axis":{"orient":"right","values":[0,200,400],"labels":false,"title":null}}}}
],"resolve":{"axis":{"x":"independent","y":"independent"}}}
],"spacing":0,"bounds":"flush","resolve":{"scale":{"x":"independent","y":"independent"}}}
],
"spacing": 42,
"resolve": {"scale": {"x": "independent", "y": "independent"}},
"config": {
 "font": "Liberation Sans",
 "view": {"stroke": "black", "strokeWidth": 2},
 "text": {"font": "Liberation Sans"},
 "axis": {"domain": false, "grid": false, "ticks": true, "tickColor": "black", "tickWidth": 2, "tickSize": -7,
  "labelFont": "Liberation Sans", "labelFontSize": 19, "labelColor": "black", "labelPadding": 15, "labelFlush": false, "labelOverlap": false,
  "titleFont": "Liberation Sans", "titleFontSize": 19, "titleFontWeight": "normal", "titleColor": "black", "titlePadding": 10},
 "axisBottom": {"labelPadding": 18, "titlePadding": 1}
}
}
